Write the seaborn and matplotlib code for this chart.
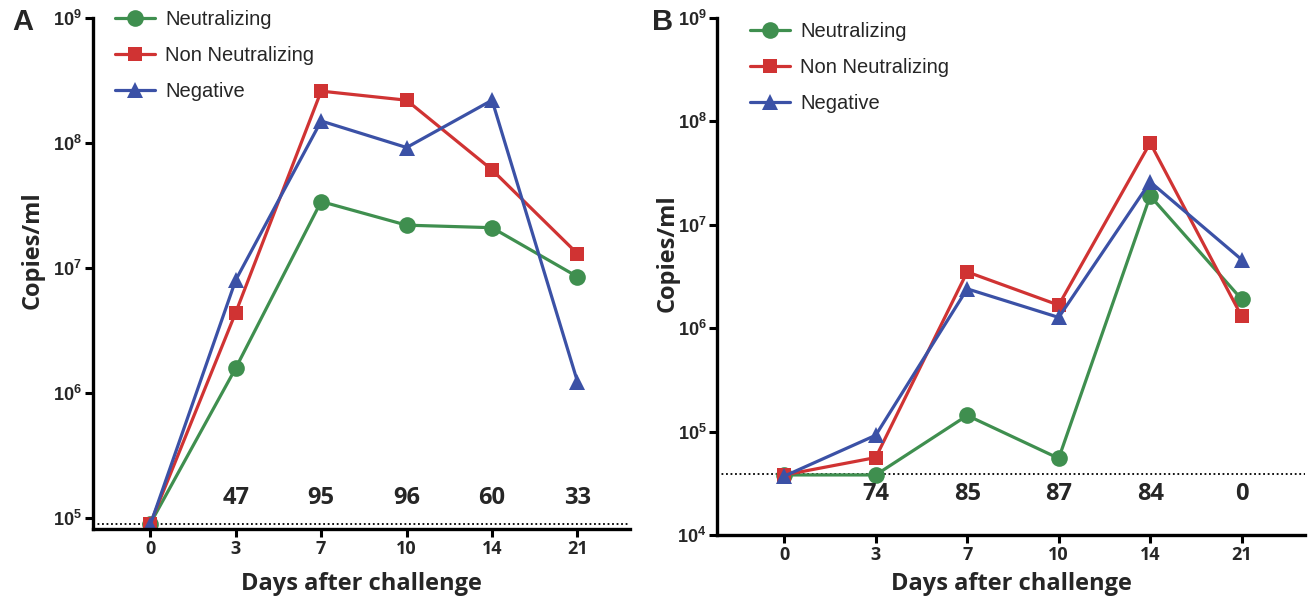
import numpy as np
import pandas as pd
import matplotlib
matplotlib.use("Agg")
import matplotlib.pyplot as plt
import seaborn as sns

# ===================== DATA =====================
days      = ["0", "3", "7", "10", "14", "21"]
groups    = ["Neutralizing", "Non Neutralizing", "Negative"]

a_neut    = [9.0e4, 1.58e6, 3.4e7, 2.2e7, 2.1e7, 8.5e6]
a_nonneut = [9.0e4, 4.4e6, 2.6e8, 2.2e8, 6.1e7, 1.3e7]
a_neg     = [8.8e4, 8.0e6, 1.5e8, 9.2e7, 2.2e8, 1.23e6]
a_pct     = ["", "47", "95", "96", "60", "33"]
a_limit   = 9.0e4

b_neut    = [3.8e4, 3.8e4, 1.43e5, 5.5e4, 1.9e7, 1.9e6]
b_nonneut = [3.8e4, 5.6e4, 3.5e6, 1.67e6, 6.2e7, 1.3e6]
b_neg     = [3.7e4, 9.2e4, 2.4e6, 1.27e6, 2.6e7, 4.6e6]
b_pct     = ["", "74", "85", "87", "84", "0"]
b_limit   = 3.9e4

palette = {"Neutralizing": "#3f8f4f", "Non Neutralizing": "#d03333", "Negative": "#3b51a6"}
markers = {"Neutralizing": "o", "Non Neutralizing": "s", "Negative": "^"}
sizes   = {"Neutralizing": 12, "Non Neutralizing": 10, "Negative": 12}

def long_df(neut, nonneut, neg):
    rows = []
    for g, vals in zip(groups, [neut, nonneut, neg]):
        for i, v in enumerate(vals):
            rows.append({"pos": i, "group": g, "copies": v})
    return pd.DataFrame(rows)

sns.set_style("white")
plt.rcParams["font.family"] = ["Liberation Sans", "DejaVu Sans"]

fig = plt.figure(figsize=(13.14, 6.01), dpi=100)
ax_a = fig.add_axes([0.0708, 0.120, 0.409, 0.850])
ax_b = fig.add_axes([0.546, 0.110, 0.447, 0.860])

# ax, data, pct labels, limit line, ylim, xlim, pct y, letter, letter pos, legend anchor, xlabel y, ylabel x, ylabel y
panels = [
    (ax_a, long_df(a_neut, a_nonneut, a_neg), a_pct, a_limit, (10**4.912, 1e9), (-0.67, 5.62),
     0.061, "A", (0.009, 0.963), (0.026, 1.032), -0.084, -0.091, 0.545),
    (ax_b, long_df(b_neut, b_nonneut, b_neg), b_pct, b_limit, (1e4, 1e9), (-0.73, 5.69),
     0.080, "B", (0.496, 0.963), (0.041, 1.008), -0.072, -0.065, 0.545),
]

bold_font = {"family": "Open Sans", "weight": "bold"}

for ax, df, pct, limit, ylim, xlim, pct_y, letter, letter_xy, leg_xy, xl_y, yl_x, yl_y in panels:
    for g in groups:
        sub = df[df["group"] == g]
        sns.lineplot(data=sub, x="pos", y="copies", ax=ax, color=palette[g],
                     marker=markers[g], markersize=sizes[g], markeredgewidth=0,
                     linewidth=2.3, label=g, legend=False)
    ax.axhline(limit, color="black", linestyle=(0, (1, 1.5)), linewidth=1.3, zorder=0)
    ax.set_yscale("log")
    ax.set_ylim(*ylim)
    ax.set_xlim(*xlim)
    ax.set_xticks(range(len(days)))
    ax.set_xticklabels(days)
    ax.yaxis.set_minor_locator(matplotlib.ticker.NullLocator())
    ax.set_yticks([10.0**k for k in range(4, 10) if 10.0**k >= ylim[0] * 0.999])
    for s in ["top", "right"]:
        ax.spines[s].set_visible(False)
    for s in ["left", "bottom"]:
        ax.spines[s].set_linewidth(2.4)
        ax.spines[s].set_color("black")
    ax.tick_params(axis="both", which="major", direction="out", length=6, width=2.2,
                   color="black", left=True, bottom=True, labelsize=13, pad=2)
    for lab in ax.get_xticklabels():
        lab.set_fontfamily("Open Sans")
        lab.set_fontweight("bold")
    for lab in ax.get_yticklabels():
        lab.set_fontweight("bold")
    ax.set_xlabel("Days after challenge", fontsize=17, **bold_font)
    ax.set_ylabel("Copies/ml", fontsize=17, **bold_font)
    ax.xaxis.set_label_coords(0.5, xl_y)
    ax.yaxis.set_label_coords(yl_x, yl_y)
    trans = matplotlib.transforms.blended_transform_factory(ax.transData, ax.transAxes)
    for i, t in enumerate(pct):
        ax.text(i, pct_y, t, transform=trans, ha="center", va="center",
                fontsize=17, **bold_font)
    fig.text(*letter_xy, letter, fontsize=21, fontweight="bold", ha="left", va="center")
    ax.legend(loc="upper left", bbox_to_anchor=leg_xy, frameon=False,
              fontsize=14.5, handlelength=2.0, handletextpad=0.5,
              labelspacing=0.85, borderaxespad=0)

fig.savefig("out.png", dpi=100)
